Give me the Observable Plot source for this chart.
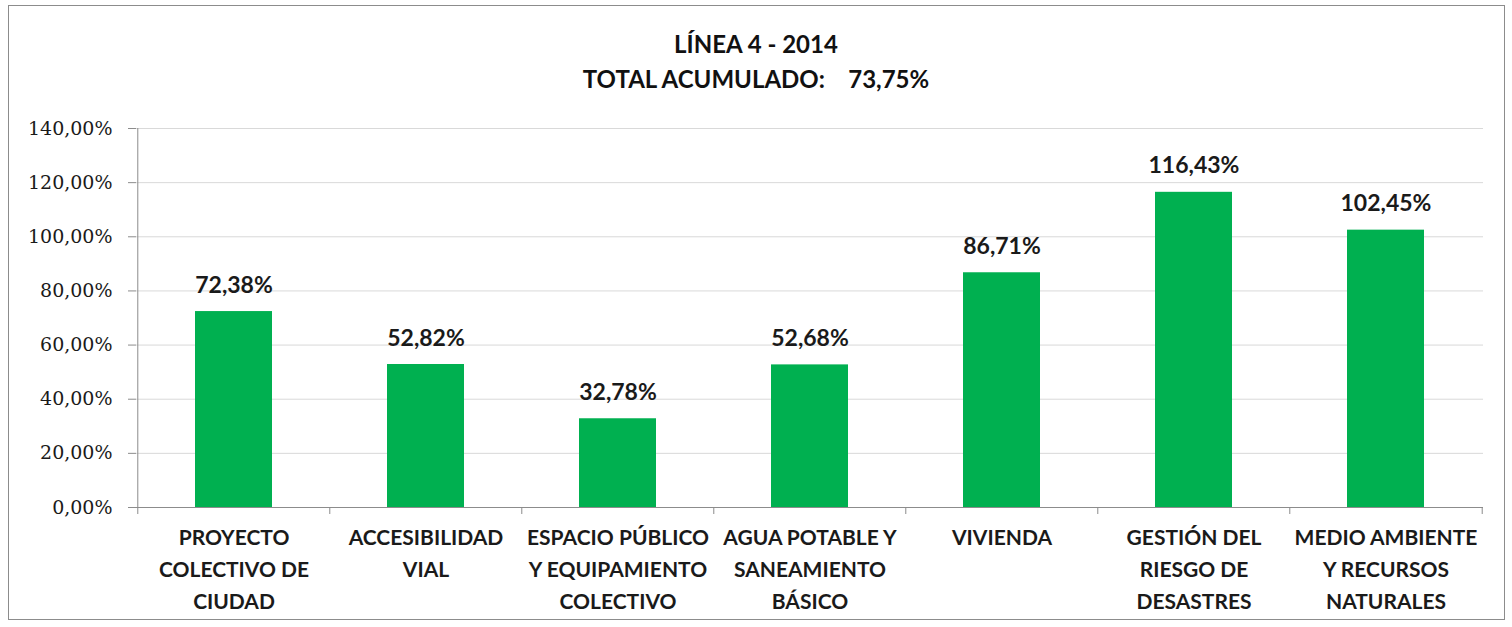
<!DOCTYPE html>
<html>
<head>
<meta charset="utf-8">
<script src="https://cdn.jsdelivr.net/npm/d3@7"></script>
<script src="https://cdn.jsdelivr.net/npm/@observablehq/plot@0.6"></script>
<style>
  html, body { margin: 0; padding: 0; background: #fff; }
  body { width: 1512px; height: 627px; position: relative; overflow: hidden; }
  #frame { position: absolute; left: 8px; top: 5px; width: 1497px; height: 615px; border: 1px solid #8c8c8c; box-sizing: border-box; }
  .title { position: absolute; left: 0; width: 1512px; text-align: center; font-family: Lato, sans-serif; font-weight: 700; font-size: 24px; color: #111; white-space: pre; }
  #t1 { top: 29px; }
  #t2 { top: 64px; }
  #chart { position: absolute; left: 8px; top: 110px; }
</style>
</head>
<body>
<div id="frame"></div>
<div class="title" id="t1">LÍNEA 4 - 2014</div>
<div class="title" id="t2">TOTAL ACUMULADO:    73,75%</div>
<div id="chart"></div>
<script>
const categories = ["PROYECTO COLECTIVO DE CIUDAD", "ACCESIBILIDAD VIAL", "ESPACIO PÚBLICO Y EQUIPAMIENTO COLECTIVO", "AGUA POTABLE Y SANEAMIENTO BÁSICO", "VIVIENDA", "GESTIÓN DEL RIESGO DE DESASTRES", "MEDIO AMBIENTE Y RECURSOS NATURALES"];
const tickLabels = ["PROYECTO\nCOLECTIVO DE\nCIUDAD", "ACCESIBILIDAD\nVIAL", "ESPACIO PÚBLICO\nY EQUIPAMIENTO\nCOLECTIVO", "AGUA POTABLE Y\nSANEAMIENTO\nBÁSICO", "VIVIENDA", "GESTIÓN DEL\nRIESGO DE\nDESASTRES", "MEDIO AMBIENTE\nY RECURSOS\nNATURALES"];
const values = [72.38, 52.82, 32.78, 52.68, 86.71, 116.43, 102.45];
const yTicks = [0, 20, 40, 60, 80, 100, 120, 140];

const data = categories.map((c, i) => ({category: c, value: values[i], label: tickLabels[i]}));
const fmt = v => v.toFixed(2).replace(".", ",") + "%";

const W = 1497, H = 510, mL = 128, mR = 22, mT = 18, mB = 113;
const step = (W - mL - mR) / categories.length;

const plot = Plot.plot({
  width: W, height: H,
  marginLeft: mL, marginRight: mR, marginTop: mT, marginBottom: mB,
  style: {background: "transparent", overflow: "visible"},
  x: {domain: categories, paddingInner: 0.6, paddingOuter: 0.3, axis: null},
  y: {domain: [0, 140], axis: null},
  marks: [
    Plot.gridY(yTicks.filter(d => d > 0), {stroke: "#d9d9d9", strokeOpacity: 1, strokeWidth: 1}),
    Plot.barY(data, {x: "category", y: "value", fill: "#00b050"}),
    Plot.ruleY([0], {stroke: "#8c8c8c", strokeWidth: 1}),
    Plot.axisY({ticks: yTicks, label: null, tickSize: 8, tickPadding: 16, tickFormat: fmt,
      fontSize: 19, fontFamily: "DejaVu Serif", fill: "#1a1a1a", stroke: "#8c8c8c", strokeOpacity: 1,
      style: {letterSpacing: "1px"}}),
    Plot.ruleX(data.slice(0, 1), {x: "category", y1: 0, y2: 140, dx: -step / 2, stroke: "#8c8c8c"}),
    Plot.ruleX(data, {x: "category", y1: 0, y2: 0, insetTop: 7, dx: -step / 2, stroke: "#8c8c8c"}),
    Plot.ruleX(data.slice(-1), {x: "category", y1: 0, y2: 0, insetTop: 7, dx: step / 2, stroke: "#8c8c8c"}),
    Plot.axisX({label: null, tickSize: 0, tickPadding: 15, lineAnchor: "top", lineHeight: 1.52,
      tickFormat: c => tickLabels[categories.indexOf(c)],
      fontSize: 21, fontFamily: "Lato", fontWeight: 700, fill: "#1a1a1a"}),
    Plot.text(data, {x: "category", y: "value", text: d => fmt(d.value), lineAnchor: "bottom", dy: -19,
      fontSize: 23, fontFamily: "Lato", fontWeight: 700, fill: "#1a1a1a"})
  ]
});
document.getElementById("chart").appendChild(plot);
</script>
</body>
</html>
